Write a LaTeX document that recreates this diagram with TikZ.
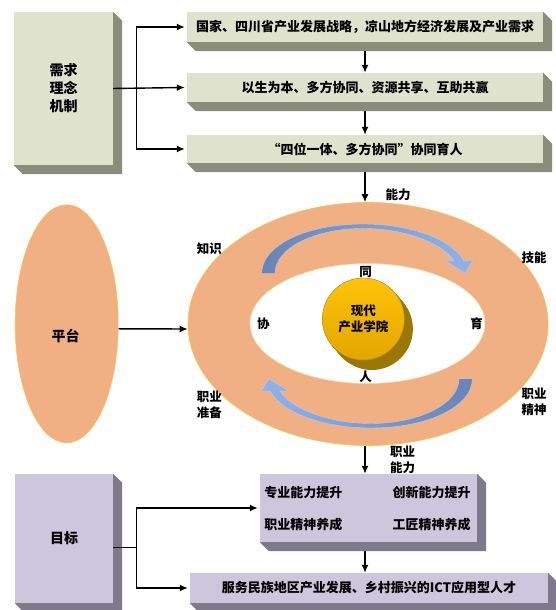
\documentclass[tikz,border=0pt]{standalone}
\usepackage{fontspec}
\newfontfamily\cjk{Noto Sans CJK SC}
\usetikzlibrary{calc}
\usetikzlibrary{shapes.geometric}
\usetikzlibrary{arrows.meta}
\definecolor{boxgreen}{HTML}{DFE3CE}
\definecolor{shadegreen}{HTML}{8B8D7B}
\definecolor{boxlilac}{HTML}{CDC7DD}
\definecolor{shadelilac}{HTML}{7E7A8B}
\definecolor{salmon}{HTML}{F1AF84}
\definecolor{ringedge}{HTML}{F6C24E}
\definecolor{goldtop}{HTML}{FFC20A}
\definecolor{goldbottom}{HTML}{E2A600}
\definecolor{golddark}{HTML}{9B7708}
\definecolor{turndark}{HTML}{6A83B4}
\definecolor{turnlight}{HTML}{92B3E8}
\tikzstyle{flowarrow}=[line width=1.4pt,-{Latex[length=8pt,width=7pt]}]
\tikzstyle{greenbox}=[fill=boxgreen,inner sep=0pt,font=\cjk\bfseries\fontsize{13}{15}\selectfont]
\tikzstyle{lilacbox}=[fill=boxlilac,inner sep=0pt,font=\cjk\bfseries\fontsize{13}{15}\selectfont]
\tikzstyle{plaintext}=[inner sep=0pt,font=\cjk\bfseries\fontsize{13}{15}\selectfont]
\tikzstyle{sidebox}=[inner sep=0pt,align=center,font=\cjk\bfseries\fontsize{14}{18}\selectfont]
\tikzstyle{ringlabel}=[inner sep=0pt,align=center,font=\cjk\bfseries\fontsize{12.5}{16}\selectfont]
\newcommand{\extrude}[2]{% node name, colour
  \fill[#2] (#1.south west) -- ++(9,-9) -- ($(#1.south east)+(9,-9)$) -- ($(#1.north east)+(9,-9)$) -- (#1.north east) -- (#1.south east) -- cycle;
}
\newcommand{\turnarrow}[1]{% half-turn arrow round the ring, drawn about (0,0)
  \path[#1] (-105.3,52.7) .. controls (-105.3,80) and (-62,102) .. (-4,102)
    .. controls (45,102) and (86,86) .. (97,65) -- (106,65) -- (98,52.7)
    -- (78.5,65) -- (87,65) .. controls (76,82) and (40,97.5) .. (-4,97.5)
    .. controls (-52,97.5) and (-92,78) .. (-92,52.7) -- cycle;
}
\begin{document}
\begin{tikzpicture}[x=1pt,y=1pt,font=\cjk]
\fill[white] (0,0) rectangle (555,610);
\useasboundingbox (0,0) rectangle (555,610);
% demand, idea, mechanism
\node[greenbox,sidebox,minimum width=99pt,minimum height=153pt] (need) at (63.5,521.5) {需求\\理念\\机制};
\node[greenbox,minimum width=356pt,minimum height=30pt] (demand) at (365,583) {国家、四川省产业发展战略，凉山地方经济发展及产业需求};
\node[greenbox,minimum width=356pt,minimum height=29pt] (idea) at (365,522.5) {以生为本、多方协同、资源共享、互助共赢};
\node[greenbox,minimum width=356pt,minimum height=28pt] (mech) at (365,461) {“四位一体、多方协同”协同育人};
\extrude{need}{shadegreen}
\extrude{demand}{shadegreen}
\extrude{idea}{shadegreen}
\extrude{mech}{shadegreen}
\draw[flowarrow] (need.east) -- ++(23.5,0) |- ([xshift=-2pt]demand.west);
\draw[flowarrow] (need.east) -- ([xshift=-2pt]idea.west);
\draw[flowarrow] (need.east) -- ++(23.5,0) |- ([xshift=-2pt]mech.west);
\draw[flowarrow] ([yshift=-9pt]demand.south) -- (idea.north);
\draw[flowarrow] ([yshift=-9pt]idea.south) -- (mech.north);
% platform and ring
\node[ellipse,fill=salmon,draw=ringedge,line width=0.6pt,minimum width=103pt,minimum height=238pt,inner sep=0pt] (platform) at (66.7,286.2) {};
\node[sidebox] (platformtext) at (65.7,274.3) {平台};
\node[ellipse,fill=salmon,draw=ringedge,line width=0.6pt,minimum width=360pt,minimum height=243pt,inner sep=0pt] (ring) at (368,286) {};
\node[ellipse,fill=white,draw=ringedge!60,line width=0.5pt,minimum width=235pt,minimum height=120pt,inner sep=0pt] (hole) at (367.5,286.5) {};
\draw[flowarrow] ([yshift=-9pt]mech.south) -- (mech.south |- ring.north);
\draw[flowarrow] ([yshift=-5pt]platform.east) -- ([yshift=-5pt]ring.west);
% turning arrows
\begin{scope}[shift={(367,284)}]
	\turnarrow{left color=turndark,right color=turnlight,draw=turnlight!60,line width=0.4pt}
\end{scope}
\begin{scope}[shift={(367,284)},rotate=180]
	\turnarrow{left color=turnlight,right color=turndark,draw=turnlight!60,line width=0.4pt}
\end{scope}
% ring labels
\node[ringlabel] (ability) at (398,415) {能力};
\node[ringlabel] (knowledge) at (209.3,361.7) {知识};
\node[ringlabel] (skill) at (534,352.7) {技能};
\node[ringlabel] (prepare) at (209.3,205.3) {职业\\准备};
\node[ringlabel] (spirit) at (534,208.3) {职业\\精神};
\node[ringlabel] (vocation) at (402.5,150.4) {职业\\能力};
\node[ringlabel] (tong) at (365.7,338.3) {同};
\node[ringlabel] (ren) at (365.7,233.3) {人};
\node[ringlabel] (xie) at (263.3,286) {协};
\node[ringlabel] (yu) at (476.7,286) {育};
% college ball
\coordinate (ballc) at (363.3,291);
\foreach \t in {0,0.05,...,1.0}
	\fill[golddark] ($(ballc)+(9*\t,-10.5*\t)$) circle (41);
\node[circle,minimum size=82pt,inner sep=0pt,top color=goldtop,bottom color=goldbottom,draw=golddark!80,line width=0.4pt,align=center,font=\cjk\bfseries\fontsize{12.5}{16.6}\selectfont] (ball) at (ballc) {现代\\产业学院};
% goal
\node[lilacbox,sidebox,minimum width=98pt,minimum height=129pt] (goal) at (64,71.5) {目标};
\node[lilacbox,minimum width=217pt,minimum height=68pt] (quality) at (368.5,102) {};
\node[lilacbox,minimum width=358pt,minimum height=30pt] (talent) at (369,22) {服务民族地区产业发展、乡村振兴的ICT应用型人才};
\extrude{goal}{shadelilac}
\extrude{quality}{shadelilac}
\extrude{talent}{shadelilac}
\node[plaintext] (major) at (303.3,117.7) {专业能力提升};
\node[plaintext] (innov) at (431.7,117.7) {创新能力提升};
\node[plaintext] (career) at (303.3,85) {职业精神养成};
\node[plaintext] (craft) at (431.7,85) {工匠精神养成};
\draw[flowarrow] ([xshift=-3pt]ring.south) -- ([xshift=-3pt]ring.south |- quality.north);
\draw[flowarrow] ([xshift=-3.5pt,yshift=-9pt]quality.south) -- ([xshift=-3.5pt]quality.south |- talent.north);
\draw[flowarrow] ([yshift=-9pt]goal.east) -- ++(23.5,0) |- ([xshift=-2pt]quality.west);
\draw[flowarrow] ([yshift=-9pt]goal.east) -- ++(23.5,0) |- ([xshift=-2pt]talent.west);
\end{tikzpicture}
\end{document}
